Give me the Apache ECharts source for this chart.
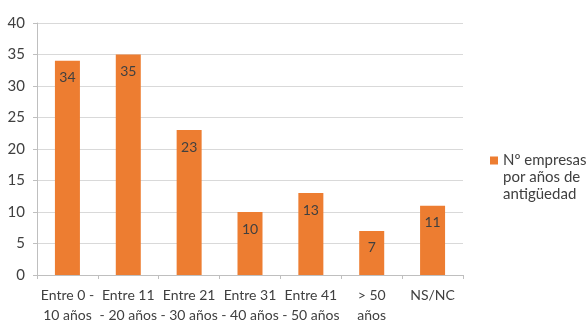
<!DOCTYPE html>
<html>
<head>
<meta charset="utf-8">
<script src="https://cdn.jsdelivr.net/npm/echarts@6/dist/echarts.min.js"></script>
<style>
  html, body { margin: 0; padding: 0; background: #fff; }
  #chart { width: 588px; height: 325px; }
</style>
</head>
<body>
<div id="chart"></div>
<script>
// Company age brackets and number of companies in each
const categories = [
  'Entre 0 -\n10 años',
  'Entre 11\n- 20 años',
  'Entre 21\n- 30 años',
  'Entre 31\n- 40 años',
  'Entre 41\n- 50 años',
  '> 50\naños',
  'NS/NC'
];
const companies = [34, 35, 23, 10, 13, 7, 11];
const seriesName = 'Nº empresas\npor años de\nantigüedad';

const FONT = 'Lato, "Open Sans", sans-serif';
const TEXT = '#404040';

// Legend swatch sits beside the first text line: the path spans the full
// three-line height, with the visible square at the top.
const LEGEND_ICON = 'path://M0,4.5H8V12.5H0Z M0,0H0.001V0.001H0Z M0,51H0.001V51.001H0Z';

const chart = echarts.init(document.getElementById('chart'), null, { renderer: 'canvas' });
chart.setOption({
  animation: false,
  textStyle: { fontFamily: FONT },
  grid: { left: 37, right: 125, top: 23, bottom: 48, containLabel: false },
  legend: {
    left: 490,
    top: 152,
    padding: 0,
    orient: 'vertical',
    itemWidth: 8,
    itemHeight: 51,
    itemGap: 4,
    icon: LEGEND_ICON,
    data: [seriesName],
    textStyle: {
      fontFamily: FONT,
      fontSize: 15,
      color: TEXT,
      lineHeight: 17
    }
  },
  xAxis: {
    type: 'category',
    data: categories,
    axisLine: { show: true, lineStyle: { color: '#bfbfbf', width: 1 } },
    axisTick: { show: true, alignWithLabel: false, length: 4, lineStyle: { color: '#bfbfbf' } },
    axisLabel: {
      interval: 0,
      margin: 10,
      fontFamily: FONT,
      fontSize: 14,
      lineHeight: 20,
      color: TEXT
    }
  },
  yAxis: {
    type: 'value',
    min: 0,
    max: 40,
    interval: 5,
    axisLine: { show: true, lineStyle: { color: '#bfbfbf', width: 1 } },
    axisTick: { show: true, length: 4, lineStyle: { color: '#bfbfbf' } },
    axisLabel: { margin: 12, fontFamily: FONT, fontSize: 15, color: TEXT },
    splitLine: { show: true, lineStyle: { color: '#d9d9d9', width: 1 } }
  },
  series: [{
    name: seriesName,
    type: 'bar',
    data: companies,
    barWidth: 25,
    itemStyle: { color: '#ED7D31' },
    label: {
      show: true,
      position: 'insideTop',
      distance: 10,
      fontFamily: FONT,
      fontSize: 14,
      color: TEXT
    }
  }]
});
</script>
</body>
</html>
